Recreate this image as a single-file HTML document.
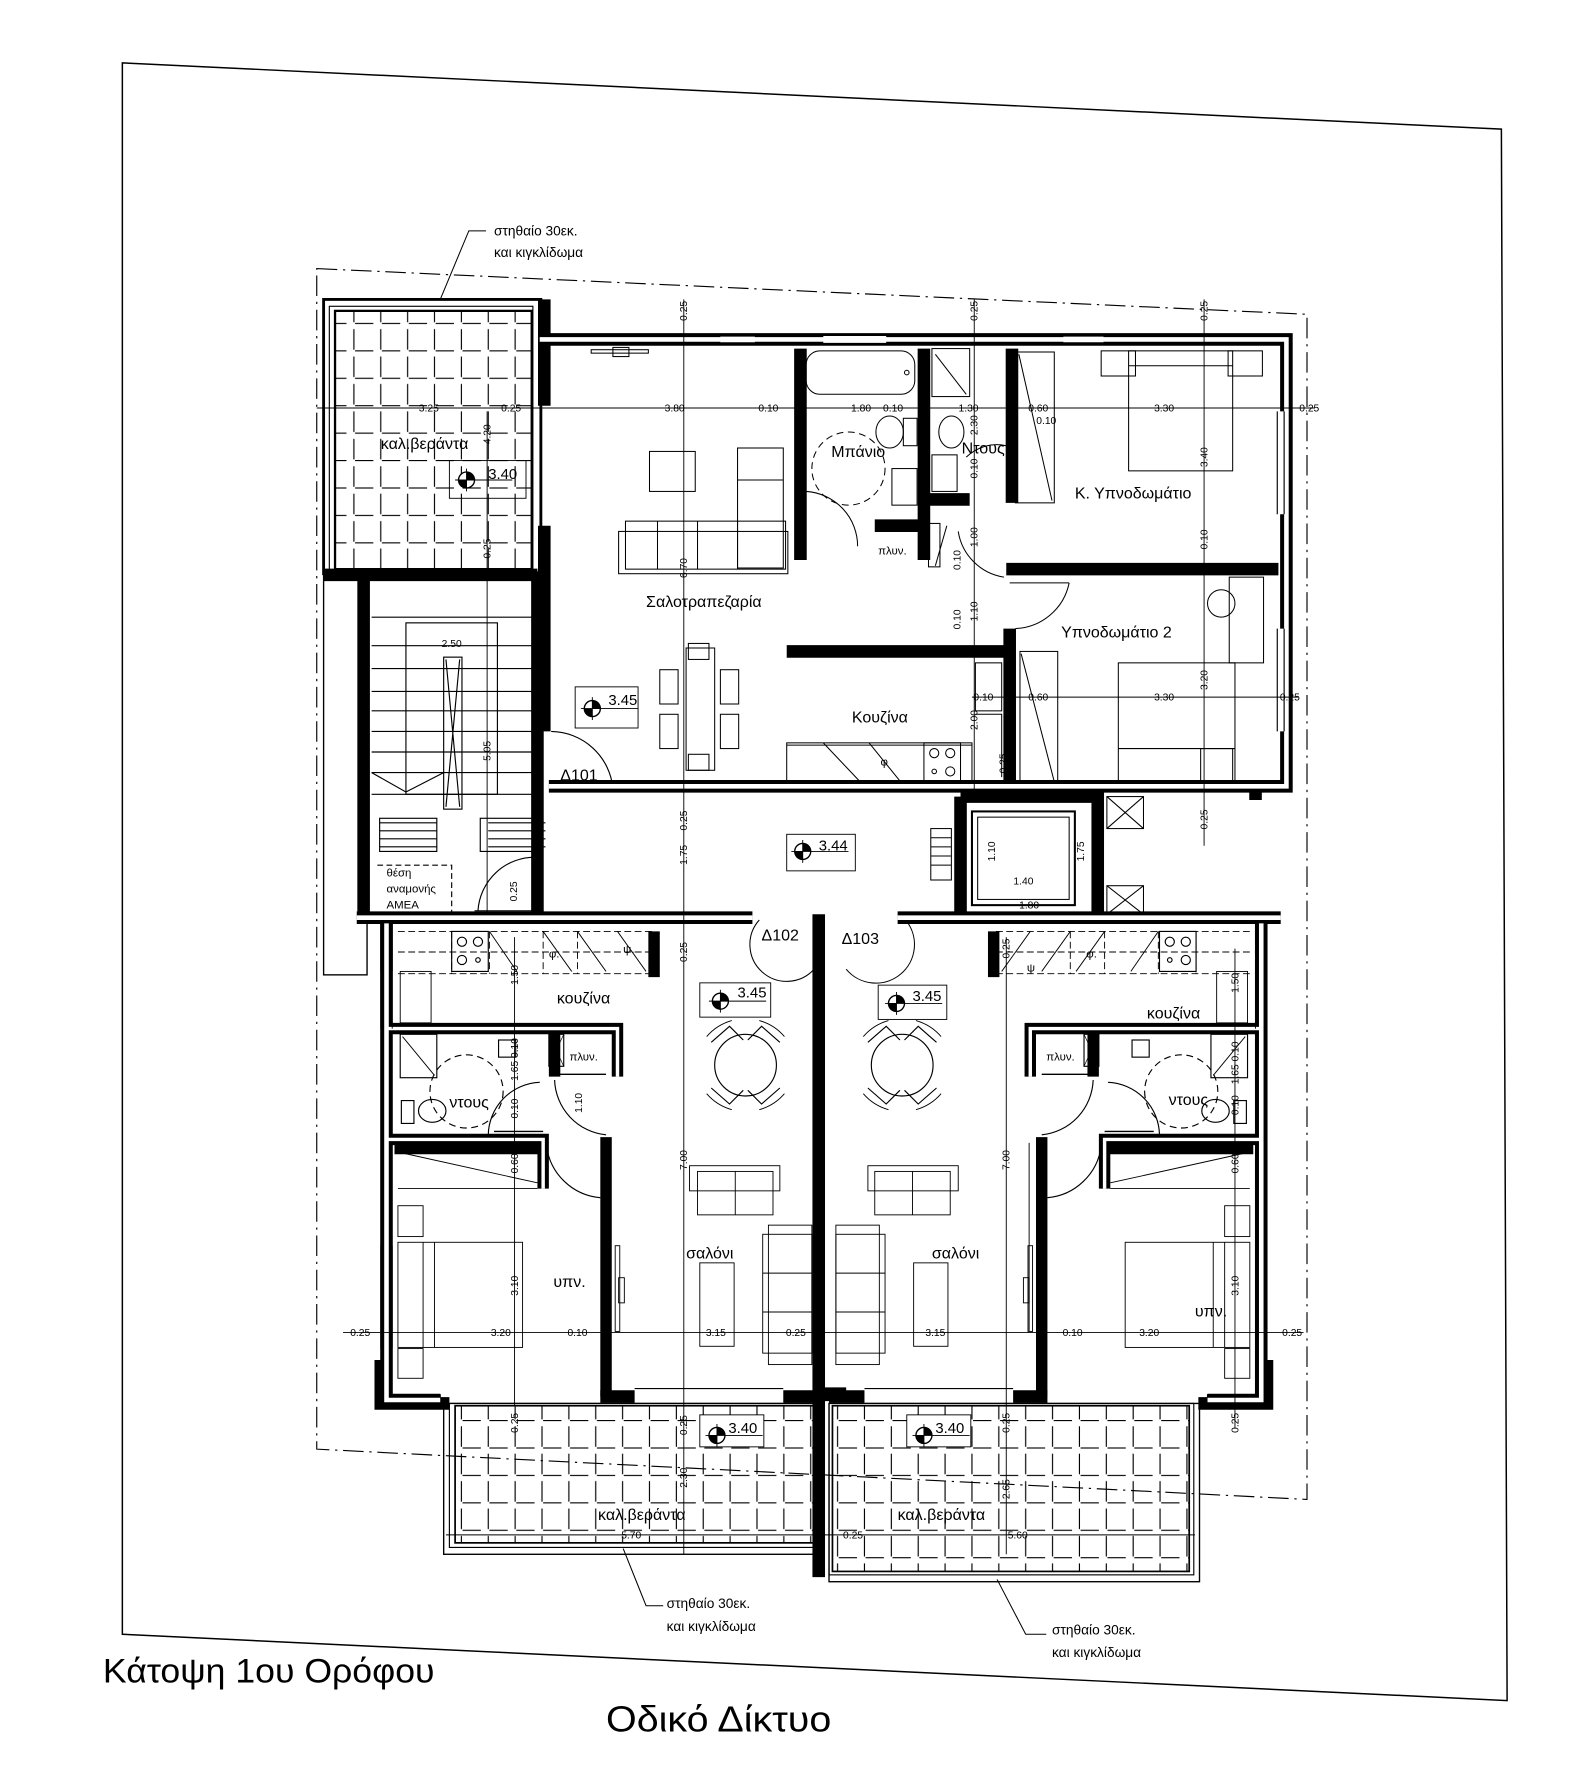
<!DOCTYPE html>
<html><head><meta charset="utf-8"><style>
html,body{margin:0;padding:0;background:#fff;}
svg{display:block;}
text{font-family:"Liberation Sans Narrow","Liberation Sans",sans-serif;fill:#000;}
.d{font-size:9px;}
.r{font-size:14px;}
</style></head><body>
<svg width="1578" height="1792" viewBox="0 0 1380 1568" preserveAspectRatio="none" xmlns="http://www.w3.org/2000/svg">
<defs>
<pattern id="tile" x="283" y="262" width="23.5" height="24" patternUnits="userSpaceOnUse">
<path d="M3,2 V20 M4,21 H20" stroke="#000" stroke-width="1" fill="none"/>
</pattern>
<g id="lvl"><circle cx="0" cy="0" r="7" fill="#fff" stroke="#000" stroke-width="1.2"/><path d="M0,0 L7,0 A7,7 0 0 0 0,-7 Z M0,0 L-7,0 A7,7 0 0 0 0,7 Z" fill="#000"/><path d="M-10,0 H40 M0,-10 V10" stroke="#000" stroke-width="0.8"/></g>
<g id="unitL" fill="none" stroke="#000">
<!-- kitchen counter -->
<path d="M348,815 H570 M348,852 H570 M395,815 V852 M428,815 V852 M475,815 V852 M505,815 V852 M348,833 H570" stroke-width="0.8" stroke-dasharray="6 3"/>
<rect x="395" y="815" width="32" height="35" stroke-width="1"/>
<circle cx="404" cy="824" r="4"/><circle cx="418" cy="824" r="4"/><circle cx="404" cy="840" r="4"/><circle cx="418" cy="840" r="2"/>
<path d="M428,815 L452,850 M475,815 L500,850 M505,815 L530,850 M540,815 L565,850" stroke-width="0.8"/>
<rect x="350" y="850" width="27" height="45" stroke-width="0.8"/>
<!-- shower -->
<rect x="350" y="905" width="32" height="38" stroke-width="1"/><path d="M352,907 L380,941" stroke-width="0.8"/>
<rect x="436" y="910" width="15" height="15" stroke-width="1"/>
<circle cx="408" cy="955" r="32" stroke-width="1" stroke-dasharray="6 4"/>
<ellipse cx="378" cy="972" rx="12" ry="10" stroke-width="1"/><rect x="351" y="963" width="11" height="20"/>
<rect x="480" y="905" width="13" height="28" stroke-width="1"/><path d="M480,905 L493,933 M493,905 L480,933" stroke-width="0.6"/>
<path d="M485,940 H530 M432,990 H475" stroke-width="1.2"/>
<path d="M427,993 A47,47 0 0 1 472,947" stroke-width="1"/>
<path d="M485,945 A50,50 0 0 0 530,993" stroke-width="1"/>
<path d="M478,1003 A52,52 0 0 0 525,1048" stroke-width="1"/>
<!-- bedroom -->
<path d="M348,1008 L470,1035 M348,1040 H470" stroke-width="0.8"/>
<rect x="348" y="1055" width="22" height="27" stroke-width="0.8"/>
<rect x="348" y="1087" width="109" height="92" stroke-width="0.8"/><path d="M370,1087 V1179 M380,1087 V1179" stroke-width="0.8"/>
<rect x="348" y="1180" width="22" height="26" stroke-width="0.8"/>
<rect x="538" y="1090" width="4" height="75" stroke-width="0.8"/><rect x="541" y="1118" width="5" height="22" stroke-width="0.8"/>
<!-- dining -->
<circle cx="652" cy="932" r="27" stroke-width="1"/>
<path d="M622,912 L638,898 L650,910 M682,912 L666,898 L654,910 M622,952 L638,966 L650,954 M682,952 L666,966 L654,954" stroke-width="1"/>
<path d="M618,907 A45,45 0 0 1 640,893 M686,907 A45,45 0 0 0 664,893 M618,957 A45,45 0 0 0 640,971 M686,957 A45,45 0 0 1 664,971" stroke-width="0.8"/>
<!-- sofa -->
<rect x="603" y="1020" width="79" height="22" stroke-width="0.8"/><rect x="610" y="1025" width="66" height="38" stroke-width="0.8"/><path d="M643,1025 V1063" stroke-width="0.8"/>
<rect x="612" y="1105" width="30" height="73" stroke-width="0.8"/>
<rect x="667" y="1080" width="43" height="104" stroke-width="0.8"/><path d="M667,1114 H710 M667,1148 H710" stroke-width="0.8"/>
<rect x="672" y="1072" width="38" height="122" stroke-width="0.8"/>
<!-- walls -->
<g stroke-linejoin="miter">
<path d="M338,808 V1225 H385 M333,1190 V1228 H393 M380,1220 V1228" stroke-width="11"/>
<path d="M338,900 H540 V942 M338,997 H475 V1040 M485,900 V942 M530,995 V1222 M572,815 V855 M345,1005 H475" stroke-width="10"/>
<path d="M525,1222 H555 M685,1222 H716" stroke-width="11"/>
</g>
<g stroke="#fff">
<path d="M338,808 V1225 H385" stroke-width="4"/>
<path d="M338,900 H540 V942 M338,997 H475 V1040" stroke-width="3"/>
</g>
<path d="M333,850 V900 M343,850 V900 M333,1090 V1180 M343,1090 V1180" stroke-width="0.8" stroke="#000"/>
<path d="M555,1215 H685" stroke-width="1"/>
</g>
</defs>

<!-- property line -->
<path d="M107,55 L1313,113 L1318,1488 L107,1430 Z" fill="none" stroke="#000" stroke-width="1.3"/>
<!-- dash-dot outline -->
<path d="M277,235 L1143,275 V1312 L277,1268 Z" fill="none" stroke="#000" stroke-width="1" stroke-dasharray="18 5 2 5"/>

<!-- top-left veranda -->
<rect x="283" y="262" width="190" height="240" fill="none" stroke="#000" stroke-width="2.5"/>
<rect x="288" y="268" width="178" height="232" fill="none" stroke="#000" stroke-width="1"/>
<rect x="293" y="272" width="172" height="226" fill="url(#tile)" stroke="#000" stroke-width="2"/>

<!-- bottom verandas -->
<rect x="388" y="1228" width="325" height="132" fill="none" stroke="#000" stroke-width="1.2"/>
<rect x="393" y="1228" width="320" height="126" fill="none" stroke="#000" stroke-width="1"/>
<rect x="398" y="1230" width="315" height="120" fill="url(#tile)" stroke="#000" stroke-width="1.5"/>
<rect x="725" y="1228" width="324" height="156" fill="none" stroke="#000" stroke-width="1.2"/>
<rect x="725" y="1228" width="319" height="150" fill="none" stroke="#000" stroke-width="1"/>
<rect x="728" y="1230" width="312" height="145" fill="url(#tile)" stroke="#000" stroke-width="1.5"/>

<!-- stair block -->
<rect x="283" y="503" width="38" height="350" fill="none" stroke="#000" stroke-width="1.2"/>
<g fill="none" stroke="#000" stroke-width="1">
<path d="M325,540 H466 M325,565 H466 M325,585 H466 M325,605 H466 M325,622 H466 M325,640 H466 M325,658 H466 M325,676 H466 M325,695 H466"/>
<rect x="355" y="545" width="80" height="150"/>
<rect x="388" y="575" width="16" height="133"/>
<path d="M390,577 L402,706 M402,577 L390,706 M325,676 L355,693 L388,676"/>
<path d="M332,720 H382 M332,727 H382 M332,734 H382 M332,741 H382 M427,720 H477 M427,727 H477 M427,734 H477 M427,741 H477"/>
<rect x="332" y="716" width="50" height="29"/><rect x="420" y="716" width="50" height="29"/>
<path d="M330,757 H395 V800" stroke-dasharray="5 3"/>
<path d="M418,797 A50,50 0 0 1 468,750"/>
<path d="M415,797 H470"/>
<path d="M482,640 A55,55 0 0 1 536,690"/>
</g>

<!-- upper apartment furniture -->
<g fill="none" stroke="#000" stroke-width="0.9">
<rect x="517" y="306" width="50" height="3"/><rect x="536" y="304" width="14" height="8"/>
<rect x="568" y="395" width="40" height="35"/>
<rect x="645" y="392" width="40" height="105"/><rect x="547" y="456" width="140" height="42"/>
<path d="M645,420 H685 M645,456 V498 M575,456 V498 M610,456 V498"/>
<rect x="541" y="465" width="148" height="37"/>
<rect x="600" y="567" width="25" height="107"/>
<rect x="602" y="563" width="18" height="14"/><rect x="602" y="660" width="18" height="14"/>
<rect x="577" y="586" width="16" height="30"/><rect x="577" y="625" width="16" height="30"/>
<rect x="630" y="586" width="16" height="30"/><rect x="630" y="625" width="16" height="30"/>
<rect x="705" y="307" width="95" height="38" rx="12"/>
<circle cx="793" cy="326" r="2"/>
<rect x="815" y="305" width="33" height="42"/><path d="M818,310 L845,345"/>
<ellipse cx="778" cy="378" rx="12" ry="14"/><rect x="790" y="366" width="12" height="24"/>
<ellipse cx="832" cy="378" rx="11" ry="14"/>
<rect x="780" y="410" width="22" height="32"/><rect x="815" y="398" width="22" height="32"/>
<circle cx="742" cy="410" r="32" stroke-dasharray="6 4"/>
<path d="M705,430 A48,48 0 0 1 750,478"/>
<path d="M845,400 A38,38 0 0 1 880,390"/>
<rect x="888" y="308" width="34" height="132"/><path d="M891,310 L920,438"/>
<rect x="963" y="307" width="30" height="22"/><rect x="1074" y="307" width="30" height="22"/>
<rect x="987" y="307" width="91" height="105"/><path d="M987,320 H1078"/>
<path d="M828,460 L818,495"/><rect x="812" y="458" width="10" height="38"/>
<path d="M878,505 A48,48 0 0 1 838,465"/>
<path d="M883,510 H935 M935,510 A50,50 0 0 1 888,550"/>
<rect x="1075" y="505" width="30" height="75"/><circle cx="1068" cy="528" r="12"/>
<rect x="892" y="570" width="33" height="115"/><path d="M893,572 L922,684"/>
<rect x="978" y="580" width="102" height="103"/><path d="M978,655 H1080"/>
<rect x="1050" y="655" width="28" height="28"/>
<rect x="853" y="580" width="23" height="42"/><path d="M853,625 H876 V680"/>
<rect x="688" y="650" width="162" height="37"/><path d="M688,652 H850 M720,650 L755,687 M760,650 L790,687"/>
<rect x="808" y="650" width="32" height="35"/>
<circle cx="817" cy="659" r="4"/><circle cx="831" cy="659" r="4"/><circle cx="817" cy="675" r="2"/><circle cx="831" cy="675" r="4"/>
<!-- lift -->
<rect x="850" y="710" width="90" height="82" stroke-width="1.8"/><rect x="855" y="715" width="80" height="72"/>
<rect x="814" y="725" width="18" height="45"/><path d="M814,733 H832 M814,741 H832 M814,749 H832 M814,757 H832"/>
<rect x="968" y="697" width="32" height="28"/><path d="M968,697 L1000,725 M1000,697 L968,725"/>
<rect x="968" y="775" width="32" height="25"/><path d="M968,775 L1000,800 M1000,775 L968,800"/>
<path d="M664,805 A30,30 0 0 0 712,848 M792,805 A30,30 0 0 1 740,848"/>
</g>

<!-- upper walls -->
<g fill="none" stroke="#000" stroke-linejoin="miter">
<path d="M476,262 V355 M476,460 V640 M470,500 V800 M472,297 H1125 V688 H480 M283,503 H470 M318,503 V800 M312,803 H658 M785,803 H1120 M700,305 V490 M765,460 H808 V490 M808,305 V490 M808,437 H848 M885,305 V440 M880,498 H1118 M883,550 V690 M688,570 H880 M840,697 H955 M840,697 V800 M960,690 V800 M1098,688 V700 M338,803 V850" stroke-width="11"/>
<path d="M472,297 H1125 V688 H480 M312,803 H658 M785,803 H1120" stroke="#fff" stroke-width="4"/>
<path d="M630,297 H660 M720,297 H775 M930,297 H965 M1120,360 V450 M1120,550 V640" stroke="#fff" stroke-width="6"/>
<path d="M630,294 H660 M630,300 H660 M930,294 H965 M930,300 H965 M1117,360 V450 M1123,360 V450 M1117,550 V640 M1123,550 V640" stroke-width="1"/>
<path d="M716,800 V1380" stroke-width="11"/>
<path d="M712,1220 H740" stroke-width="12"/>
</g>

<!-- lower units -->
<use href="#unitL"/>
<use href="#unitL" transform="translate(1441,0) scale(-1,1)"/>

<!-- dimension lines -->
<g stroke="#000" stroke-width="0.8" fill="none">
<path d="M277,357 H1150 M850,610 H1135 M300,1166 H1140 M390,1343 H1045"/>
<path d="M598,262 V1360 M426,360 V800 M852,262 V700 M1053,262 V740 M450,820 V1230 M880,820 V1360 M1080,830 V1250 M900,1000 V1165"/>
</g>
<g class="d" text-anchor="middle">
<text x="375" y="360">3.25</text><text x="447" y="360">0.25</text><text x="590" y="360">3.80</text>
<text x="672" y="360">0.10</text><text x="753" y="360">1.80</text><text x="781" y="360">0.10</text>
<text x="847" y="360">1.30</text><text x="908" y="360">0.60</text><text x="1018" y="360">3.30</text>
<text x="1145" y="360">0.25</text><text x="915" y="371">0.10</text>
<text x="860" y="613">0.10</text><text x="908" y="613">0.60</text><text x="1018" y="613">3.30</text><text x="1128" y="613">0.25</text>
<text x="395" y="566">2.50</text>
<text x="315" y="1169">0.25</text><text x="438" y="1169">3.20</text><text x="505" y="1169">0.10</text>
<text x="626" y="1169">3.15</text><text x="696" y="1169">0.25</text><text x="818" y="1169">3.15</text>
<text x="938" y="1169">0.10</text><text x="1005" y="1169">3.20</text><text x="1130" y="1169">0.25</text>
<text x="552" y="1346">5.70</text><text x="746" y="1346">0.25</text><text x="890" y="1346">5.60</text>
<text x="895" y="774">1.40</text><text x="900" y="795">1.80</text>
</g>
<g class="d" text-anchor="middle">
<text transform="translate(601,272) rotate(-90)">0.25</text>
<text transform="translate(855,272) rotate(-90)">0.25</text>
<text transform="translate(1056,272) rotate(-90)">0.25</text>
<text transform="translate(601,497) rotate(-90)">6.70</text>
<text transform="translate(601,718) rotate(-90)">0.25</text>
<text transform="translate(601,748) rotate(-90)">1.75</text>
<text transform="translate(601,833) rotate(-90)">0.25</text>
<text transform="translate(601,1015) rotate(-90)">7.00</text>
<text transform="translate(601,1247) rotate(-90)">0.25</text>
<text transform="translate(601,1293) rotate(-90)">2.30</text>
<text transform="translate(429,380) rotate(-90)">4.20</text>
<text transform="translate(429,480) rotate(-90)">0.25</text>
<text transform="translate(429,657) rotate(-90)">5.05</text>
<text transform="translate(452,780) rotate(-90)">0.25</text>
<text transform="translate(855,372) rotate(-90)">2.30</text>
<text transform="translate(855,410) rotate(-90)">0.10</text>
<text transform="translate(855,470) rotate(-90)">1.00</text>
<text transform="translate(840,490) rotate(-90)">0.10</text>
<text transform="translate(855,535) rotate(-90)">1.10</text>
<text transform="translate(840,542) rotate(-90)">0.10</text>
<text transform="translate(855,630) rotate(-90)">2.00</text>
<text transform="translate(880,668) rotate(-90)">0.25</text>
<text transform="translate(870,745) rotate(-90)">1.10</text>
<text transform="translate(948,745) rotate(-90)">1.75</text>
<text transform="translate(1056,400) rotate(-90)">3.40</text>
<text transform="translate(1056,472) rotate(-90)">0.10</text>
<text transform="translate(1056,595) rotate(-90)">3.20</text>
<text transform="translate(1056,717) rotate(-90)">0.25</text>
<text transform="translate(453,853) rotate(-90)">1.50</text>
<text transform="translate(453,927) rotate(-90)">1.65 0.10</text>
<text transform="translate(453,970) rotate(-90)">0.10</text>
<text transform="translate(453,1018) rotate(-90)">0.60</text>
<text transform="translate(453,1125) rotate(-90)">3.10</text>
<text transform="translate(453,1245) rotate(-90)">0.25</text>
<text transform="translate(509,965) rotate(-90)">1.10</text>
<text transform="translate(883,830) rotate(-90)">0.25</text>
<text transform="translate(883,1015) rotate(-90)">7.00</text>
<text transform="translate(883,1245) rotate(-90)">0.25</text>
<text transform="translate(883,1303) rotate(-90)">2.65</text>
<text transform="translate(1083,860) rotate(-90)">1.50</text>
<text transform="translate(1083,930) rotate(-90)">1.65 0.10</text>
<text transform="translate(1083,967) rotate(-90)">0.10</text>
<text transform="translate(1083,1018) rotate(-90)">0.60</text>
<text transform="translate(1083,1125) rotate(-90)">3.10</text>
<text transform="translate(1083,1245) rotate(-90)">0.25</text>
</g>

<!-- level markers -->
<rect x="393" y="403" width="67" height="33" fill="none" stroke="#000" stroke-width="0.8"/>
<use href="#lvl" x="408" y="420"/><text x="427" y="419" style="font-size:13px">3.40</text>
<rect x="503" y="601" width="55" height="36" fill="none" stroke="#000" stroke-width="0.8"/>
<use href="#lvl" x="518" y="620"/><text x="532" y="617" style="font-size:13px">3.45</text>
<rect x="688" y="730" width="60" height="32" fill="none" stroke="#000" stroke-width="0.8"/>
<use href="#lvl" x="702" y="745"/><text x="716" y="744" style="font-size:13px">3.44</text>
<rect x="612" y="860" width="62" height="30" fill="none" stroke="#000" stroke-width="0.8"/>
<use href="#lvl" x="630" y="876"/><text x="645" y="873" style="font-size:13px">3.45</text>
<rect x="768" y="862" width="60" height="30" fill="none" stroke="#000" stroke-width="0.8"/>
<use href="#lvl" x="784" y="878"/><text x="798" y="876" style="font-size:13px">3.45</text>
<rect x="610" y="1235" width="58" height="30" fill="none" stroke="#fff" stroke-width="0"/>
<rect x="612" y="1238" width="56" height="28" fill="#fff" stroke="#000" stroke-width="0.8"/>
<use href="#lvl" x="627" y="1256"/><text x="637" y="1254" style="font-size:13px">3.40</text>
<rect x="793" y="1238" width="56" height="28" fill="#fff" stroke="#000" stroke-width="0.8"/>
<use href="#lvl" x="808" y="1256"/><text x="818" y="1254" style="font-size:13px">3.40</text>

<!-- room labels -->
<g class="r">
<text x="333" y="393">καλ.βεράντα</text>
<text x="565" y="531">Σαλοτραπεζαρία</text>
<text x="727" y="400">Μπάνιο</text>
<text x="841" y="397">Ντους</text>
<text x="940" y="436">Κ. Υπνοδωμάτιο</text>
<text x="928" y="558">Υπνοδωμάτιο 2</text>
<text x="745" y="632">Κουζίνα</text>
<text x="490" y="683">Δ101</text>
<text x="666" y="823">Δ102</text>
<text x="736" y="826">Δ103</text>
<text x="487" y="878">κουζίνα</text>
<text x="1003" y="891">κουζίνα</text>
<text x="393" y="969">ντους</text>
<text x="1022" y="967">ντους</text>
<text x="600" y="1101">σαλόνι</text>
<text x="815" y="1101">σαλόνι</text>
<text x="484" y="1126">υπν.</text>
<text x="1045" y="1152">υπν.</text>
<text x="523" y="1330">καλ.βεράντα</text>
<text x="785" y="1330">καλ.βεράντα</text>
</g>
<g style="font-size:10px">
<text x="768" y="485">πλυν.</text>
<text x="498" y="928">πλυν.</text>
<text x="915" y="928">πλυν.</text>
<text x="338" y="767">θέση</text><text x="338" y="781">αναμονής</text><text x="338" y="795">ΑΜΕΑ</text>
<text x="480" y="838">φ.</text><text x="545" y="834">ψ.</text><text x="770" y="670">φ</text><text x="950" y="838">φ.</text><text x="898" y="850">ψ</text>
</g>

<!-- leaders -->
<g stroke="#000" stroke-width="0.9" fill="none">
<path d="M425,202 H410 L385,262"/>
<path d="M580,1405 H565 L545,1355"/>
<path d="M915,1430 H897 L872,1382"/>
</g>
<g style="font-size:12px">
<text x="432" y="206">στηθαίο 30εκ.</text><text x="432" y="225">και κιγκλίδωμα</text>
<text x="583" y="1407">στηθαίο 30εκ.</text><text x="583" y="1427">και κιγκλίδωμα</text>
<text x="920" y="1430">στηθαίο 30εκ.</text><text x="920" y="1450">και κιγκλίδωμα</text>
</g>

<text x="90" y="1472" style="font-size:30px" textLength="290" lengthAdjust="spacingAndGlyphs">Κάτοψη 1ου Ορόφου</text>
<text x="530" y="1515" style="font-size:32px" textLength="197" lengthAdjust="spacingAndGlyphs">Οδικό Δίκτυο</text>
</svg>
</body></html>
